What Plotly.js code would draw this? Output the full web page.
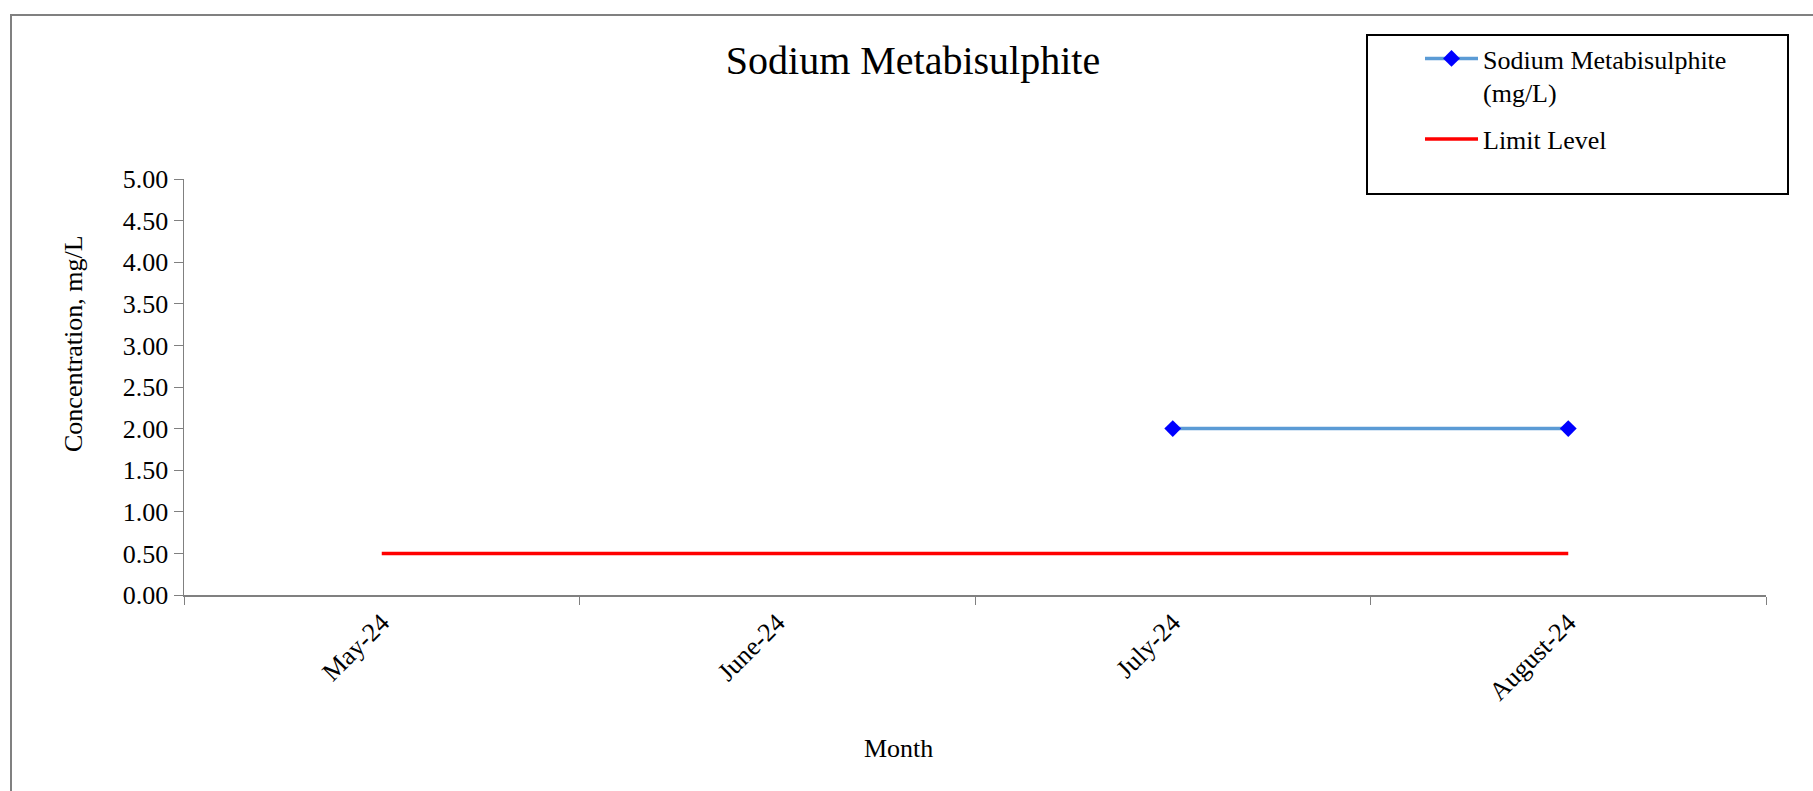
<!DOCTYPE html>
<html>
<head>
<meta charset="utf-8">
<script src="https://cdn.plot.ly/plotly-3.0.1.min.js"></script>
<style>
  html, body { margin: 0; padding: 0; background: #ffffff; }
  #chart { width: 1813px; height: 791px; }
</style>
</head>
<body>
<div id="chart"></div>
<script>
// ---- data ----
const months = ['May-24', 'June-24', 'July-24', 'August-24'];
const sodiumValues = [null, null, 2.00, 2.00];
const limitValues = [0.50, 0.50, 0.50, 0.50];
const yTickValues = [0, 0.5, 1, 1.5, 2, 2.5, 3, 3.5, 4, 4.5, 5];

const chartTitle = 'Sodium Metabisulphite';
const sodiumName = 'Sodium Metabisulphite<br>(mg/L)';
const limitName = 'Limit Level';
const xTitle = 'Month';
const yTitle = 'Concentration, mg/L';

// ---- layout geometry (pixels) ----
const W = 1813, H = 791;
const L = 184, R = 1766, T = 179, B = 595;
const pw = R - L, ph = B - T;
const px = v => (v - L) / pw;
const py = v => (B - v) / ph;

const FONT = 'Liberation Serif';

const traces = [
  {
    x: months, y: sodiumValues, name: sodiumName,
    type: 'scatter', mode: 'lines+markers',
    line: { color: '#5b9bd5', width: 3.5 },
    marker: { symbol: 'diamond', color: '#0000ff', size: 13 },
    connectgaps: false,
    legendgroup: 'g1'
  },
  {
    x: months, y: limitValues, name: limitName,
    type: 'scatter', mode: 'lines',
    line: { color: '#ff0000', width: 3.5 },
    legendgroup: 'g2'
  }
];

const layout = {
  width: W, height: H,
  margin: { l: L, r: W - R, t: T, b: H - B, pad: 0 },
  paper_bgcolor: '#ffffff', plot_bgcolor: '#ffffff',
  font: { family: FONT, size: 26, color: '#000000' },
  title: {
    text: chartTitle,
    font: { family: FONT, size: 40, color: '#000000' },
    x: 913 / W, xanchor: 'center',
    y: 1 - 60 / H, yanchor: 'middle', yref: 'container'
  },
  xaxis: {
    type: 'category',
    range: [-0.5, 3.5],
    tickson: 'boundaries',
    ticks: 'outside', ticklen: 8, tickwidth: 1, tickcolor: '#808080',
    tickangle: -45,
    tickfont: { family: FONT, size: 26, color: '#000000' },
    showline: true, linecolor: '#808080', linewidth: 2,
    showgrid: false, zeroline: false,
    fixedrange: true
  },
  yaxis: {
    range: [0, 5],
    tickvals: yTickValues,
    tickformat: '.2f',
    ticks: 'outside', ticklen: 9, tickwidth: 1, tickcolor: '#808080',
    tickfont: { family: FONT, size: 26, color: '#000000' },
    showline: true, linecolor: '#808080', linewidth: 1.5,
    showgrid: false, zeroline: false,
    fixedrange: true
  },
  annotations: [
    {
      text: xTitle, xref: 'paper', yref: 'paper',
      x: px(898), y: py(748), xanchor: 'center', yanchor: 'middle',
      showarrow: false, font: { family: FONT, size: 26, color: '#000000' }
    },
    {
      text: yTitle, xref: 'paper', yref: 'paper', textangle: -90,
      x: px(73), y: py(344), xanchor: 'center', yanchor: 'middle',
      showarrow: false, font: { family: FONT, size: 26, color: '#000000' }
    }
  ],
  shapes: [
    // outer chart border
    {
      type: 'rect', xref: 'paper', yref: 'paper',
      x0: px(11), x1: px(1840), y0: py(820), y1: py(15),
      line: { color: '#808080', width: 2 }, fillcolor: 'rgba(0,0,0,0)', layer: 'below'
    },
    // legend box
    {
      type: 'rect', xref: 'paper', yref: 'paper',
      x0: px(1367), x1: px(1788), y0: py(194), y1: py(35),
      line: { color: '#000000', width: 2 }, fillcolor: '#ffffff', layer: 'below'
    }
  ],
  showlegend: true,
  legend: {
    x: px(1420), xanchor: 'left',
    y: py(35), yanchor: 'top',
    bgcolor: 'rgba(0,0,0,0)', borderwidth: 0,
    itemwidth: 53,
    valign: 'top',
    traceorder: 'grouped',
    tracegroupgap: 10,
    font: { family: FONT, size: 26, color: '#000000' }
  }
};

Plotly.newPlot('chart', traces, layout, { staticPlot: true, displayModeBar: false });
</script>
</body>
</html>
